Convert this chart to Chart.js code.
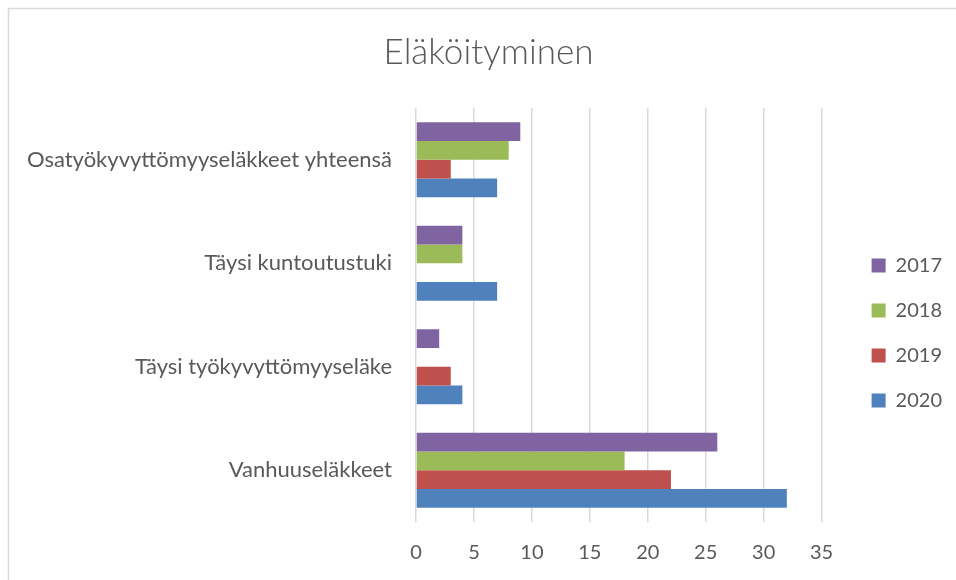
<!DOCTYPE html>
<html>
<head>
<meta charset="utf-8">
<script src="https://cdn.jsdelivr.net/npm/chart.js@4"></script>
<style>
  html, body { margin: 0; padding: 0; background: #fff; }
  #wrap { width: 956px; height: 580px; position: relative; }
</style>
</head>
<body>
<div id="wrap"><canvas id="chart"></canvas></div>
<script>
const categories = [
    'Osatyökyvyttömyyseläkkeet yhteensä',
    'Täysi kuntoutustuki',
    'Täysi työkyvyttömyyseläke',
    'Vanhuuseläkkeet'
];
const years = ['2017', '2018', '2019', '2020'];
const values2017 = [9, 4, 2, 26];
const values2018 = [8, 4, 0, 18];
const values2019 = [3, 0, 3, 22];
const values2020 = [7, 7, 4, 32];
const colors = ['#8064A2', '#9BBB59', '#C0504D', '#4F81BD'];

const textColor = '#595959';
const gridColor = '#d9d9d9';
const fontFamily = 'Lato, "Open Sans", sans-serif';

// outer frame like the Excel chart border
const frame = {
    id: 'frame',
    beforeDraw(chart) {
        const c = chart.ctx;
        c.save();
        c.fillStyle = '#fff';
        c.fillRect(0, 0, chart.width, chart.height);
        c.strokeStyle = gridColor;
        c.lineWidth = 1.5;
        c.strokeRect(8.5, 8.5, chart.width + 20, chart.height + 20);
        c.restore();
    }
};

// legend and title sit a bit off from where Chart.js puts them
const nudgeBoxes = {
    id: 'nudgeBoxes',
    afterLayout(chart) {
        const l = chart.legend;
        l.left += 25; l.right += 25;
        l.top += 43; l.bottom += 43;
        const t = chart.titleBlock;
        t.left += 25; t.right += 25;
    }
};

const ctx = document.getElementById('chart').getContext('2d');
const chart = new Chart(ctx, {
    type: 'bar',
    data: {
        labels: categories,
        datasets: [values2017, values2018, values2019, values2020].map((d, i) => ({
            label: years[i],
            data: d,
            backgroundColor: colors[i],
            borderWidth: 0,
            barPercentage: 1.0,
            categoryPercentage: 0.725
        }))
    },
    options: {
        indexAxis: 'y',
        responsive: true,
        maintainAspectRatio: false,
        animation: false,
        layout: { padding: { top: 0, right: 29, bottom: 0, left: 0 } },
        scales: {
            x: {
                min: 0,
                max: 35,
                ticks: {
                    stepSize: 5,
                    color: textColor,
                    padding: 19,
                    font: { family: fontFamily, size: 20 }
                },
                grid: {
                    color: gridColor,
                    lineWidth: 1.5,
                    drawTicks: false
                },
                border: { display: false },
                afterFit(scale) { scale.height = 58; }
            },
            y: {
                ticks: {
                    color: textColor,
                    padding: 24,
                    font: { family: fontFamily, size: 22 }
                },
                grid: { display: false, drawTicks: false },
                border: { display: false },
                afterFit(scale) { scale.width = 416; }
            }
        },
        plugins: {
            title: {
                display: true,
                text: 'Eläköityminen',
                color: textColor,
                font: { family: fontFamily, size: 35, weight: 300 },
                padding: { top: 32, bottom: 34 }
            },
            legend: {
                position: 'right',
                labels: {
                    color: textColor,
                    boxWidth: 14,
                    boxHeight: 14,
                    padding: 25,
                    font: { family: fontFamily, size: 20 }
                }
            },
            tooltip: { enabled: false }
        }
    },
    plugins: [frame, nudgeBoxes]
});
</script>
</body>
</html>
